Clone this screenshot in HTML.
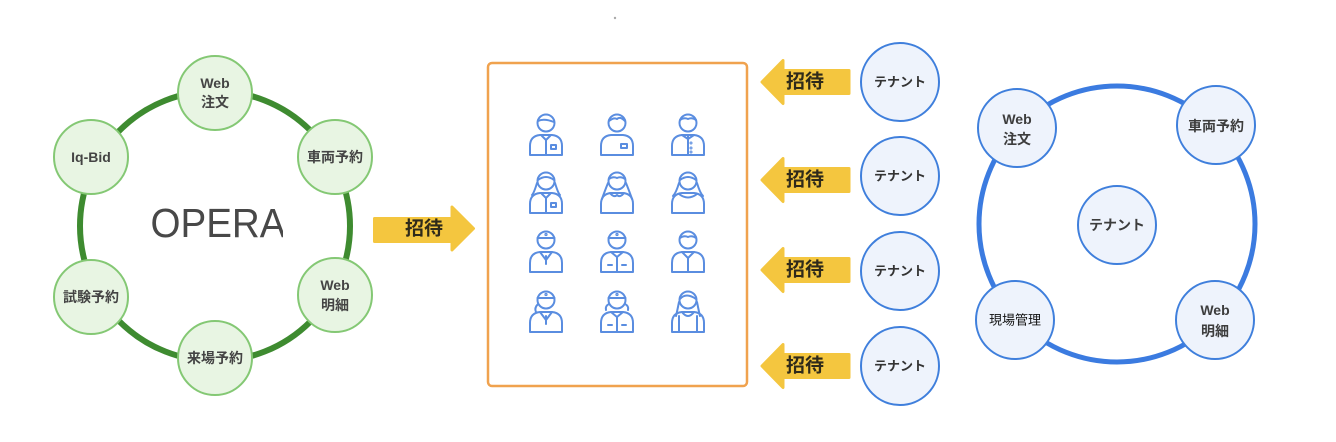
<!DOCTYPE html>
<html><head><meta charset="utf-8">
<style>
html,body{margin:0;padding:0;background:#fff;width:1336px;height:442px;overflow:hidden}
svg{display:block}
.t{font-family:"Liberation Sans","Noto Sans CJK JP",sans-serif;fill:#3a3a3a;text-anchor:middle;dominant-baseline:central}
.g{font-size:14px;font-weight:bold;fill:#444}
.b{font-size:14px;font-weight:bold;fill:#3d3d3d}
.tn{font-size:13px;fill:#333;font-weight:bold}
.ar{font-size:19px;font-weight:bold;fill:#2f2a1a}
</style></head>
<body>
<svg width="1336" height="442" viewBox="0 0 1336 442" xmlns="http://www.w3.org/2000/svg">
<defs>
<clipPath id="oc"><rect x="140" y="195" width="143" height="50"/></clipPath>
<g id="body"><path d="M-16,0 L-16,-9 Q-16,-19 -6,-20 L6,-20 Q16,-19 16,-9 L16,0 Z" fill="#fff"/></g>
</defs>

<!-- tiny dot -->
<circle cx="615" cy="18" r="1.2" fill="#aaa"/>

<!-- LEFT green ring -->
<circle cx="215" cy="226" r="135" fill="none" stroke="#3e8b30" stroke-width="6"/>
<text x="218" y="223" class="t" clip-path="url(#oc)" style="font-size:41px;fill:#484848" textLength="135" lengthAdjust="spacingAndGlyphs">OPERA</text>

<g fill="#e8f5e3" stroke="#84c874" stroke-width="2">
<circle cx="215" cy="93" r="37"/>
<circle cx="335" cy="157" r="37"/>
<circle cx="335" cy="295" r="37"/>
<circle cx="215" cy="358" r="37"/>
<circle cx="91" cy="297" r="37"/>
<circle cx="91" cy="157" r="37"/>
</g>
<text x="215" y="83" class="t g">Web</text>
<text x="215" y="102" class="t g">注文</text>
<text x="335" y="157" class="t g">車両予約</text>
<text x="335" y="285" class="t g">Web</text>
<text x="335" y="305" class="t g">明細</text>
<text x="215" y="358" class="t g">来場予約</text>
<text x="91" y="297" class="t g">試験予約</text>
<text x="91" y="157" class="t g">Iq-Bid</text>

<!-- right-pointing arrow -->
<path d="M374.5,218.5 L452,218.5 L452,207 L473.5,228.5 L452,250 L452,241.5 L374.5,241.5 Z" fill="#f4c63f" stroke="#f4c63f" stroke-width="3" stroke-linejoin="round"/>
<text x="424" y="229" class="t ar">招待</text>

<!-- orange box -->
<rect x="488" y="63" width="259" height="323" rx="4" fill="#fff" stroke="#f0a24e" stroke-width="2.5"/>

<!-- people icons -->
<g fill="none" stroke="#5a8de0" stroke-width="2" stroke-linecap="round" stroke-linejoin="round">
 <!-- row1 -->
 <g transform="translate(546,155)">
  <use href="#body"/><circle cx="0" cy="-32" r="8.5" fill="#fff"/>
  <path d="M-8,-34 Q-2,-37 8,-33"/><path d="M-5,-20 L0,-15 L5,-20"/><path d="M0,-15 L0,0"/><rect x="5" y="-10" width="5" height="4"/>
 </g>
 <g transform="translate(617,155)">
  <use href="#body"/><circle cx="0" cy="-32" r="8.5" fill="#fff"/>
  <path d="M-8,-34 Q-3,-38 0,-36 Q3,-39 8,-34"/><rect x="4" y="-11" width="6" height="4"/>
 </g>
 <g transform="translate(688,155)">
  <use href="#body"/><circle cx="0" cy="-32" r="8.5" fill="#fff"/>
  <path d="M-8,-35 Q-4,-38 0,-36 Q4,-38 8,-35"/><path d="M0,-20 L0,0"/><path d="M-6,-20 L0,-16 L6,-20"/><circle cx="3" cy="-12" r="0.5"/><circle cx="3" cy="-7" r="0.5"/><circle cx="3" cy="-3" r="0.5"/>
 </g>
 <!-- row2 -->
 <g transform="translate(546,213)">
  <use href="#body"/><path d="M-9,-30 Q-12,-20 -14,-18 M9,-30 Q12,-20 14,-18"/><circle cx="0" cy="-32" r="8.5" fill="#fff"/>
  <path d="M-8,-33 Q0,-39 8,-33"/><path d="M-5,-20 L0,-15 L5,-20"/><path d="M0,-15 L0,0"/><rect x="5" y="-10" width="5" height="4"/>
 </g>
 <g transform="translate(617,213)">
  <use href="#body"/><path d="M-9,-30 Q-13,-20 -15,-14 M9,-30 Q13,-20 15,-14"/><circle cx="0" cy="-32" r="8.5" fill="#fff"/>
  <path d="M-8,-34 Q-4,-37 0,-35 Q4,-37 8,-34"/><path d="M-7,-20 Q-3,-15 0,-18 Q3,-15 7,-20"/>
 </g>
 <g transform="translate(688,213)">
  <use href="#body"/><path d="M-9,-30 Q-12,-20 -15,-17 M9,-30 Q12,-20 15,-17"/><circle cx="0" cy="-32" r="8.5" fill="#fff"/>
  <path d="M-8,-33 Q0,-39 8,-33"/><path d="M-9,-19 Q0,-12 9,-19"/>
 </g>
 <!-- row3 -->
 <g transform="translate(546,272)">
  <use href="#body"/><circle cx="0" cy="-32" r="8.5" fill="#fff"/>
  <path d="M-8.5,-34 L8.5,-34"/><circle cx="0" cy="-37.5" r="0.6"/><path d="M-6,-20 L0,-12 L6,-20"/><path d="M0,-16 L0,-8"/>
 </g>
 <g transform="translate(617,272)">
  <use href="#body"/><circle cx="0" cy="-32" r="8.5" fill="#fff"/>
  <path d="M-8.5,-34 L8.5,-34"/><circle cx="0" cy="-37.5" r="0.6"/><path d="M-6,-20 L0,-15 L6,-20"/><path d="M0,-15 L0,0"/><path d="M-9,-7 L-5,-7 M5,-7 L9,-7"/>
 </g>
 <g transform="translate(688,272)">
  <use href="#body"/><circle cx="0" cy="-32" r="8.5" fill="#fff"/>
  <path d="M-8,-34 Q-4,-37 0,-35 Q4,-37 8,-34"/><path d="M-6,-20 L0,-14 L6,-20"/><path d="M0,-14 L0,0"/>
 </g>
 <!-- row4 -->
 <g transform="translate(546,332)">
  <use href="#body"/><path d="M-8,-28 Q-12,-24 -10,-20"/><circle cx="0" cy="-32" r="8.5" fill="#fff"/>
  <path d="M-8.5,-34 L8.5,-34"/><circle cx="0" cy="-37.5" r="0.6"/><path d="M-6,-20 L0,-12 L6,-20"/><path d="M0,-16 L0,-8"/>
 </g>
 <g transform="translate(617,332)">
  <use href="#body"/><path d="M-8,-28 Q-12,-26 -11,-22 M8,-28 Q12,-26 11,-22"/><circle cx="0" cy="-32" r="8.5" fill="#fff"/>
  <path d="M-8.5,-34 L8.5,-34"/><circle cx="0" cy="-37.5" r="0.6"/><path d="M-6,-20 L0,-15 L6,-20"/><path d="M0,-15 L0,0"/><path d="M-9,-7 L-5,-7 M5,-7 L9,-7"/>
 </g>
 <g transform="translate(688,332)">
  <use href="#body"/><path d="M-9,-30 Q-11,-20 -12,-16 M9,-30 Q11,-20 12,-16"/><circle cx="0" cy="-32" r="8.5" fill="#fff"/>
  <path d="M-8,-33 Q-2,-40 8,-33"/><path d="M-9,-16 L-9,0 M9,-16 L9,0"/><path d="M-6,-20 Q0,-12 6,-20"/>
 </g>
</g>

<!-- left-pointing arrows -->
<g fill="#f4c63f" stroke="#f4c63f" stroke-width="3" stroke-linejoin="round">
 <path d="M849,70.5 L783,70.5 L783,60.5 L762,82 L783,103.5 L783,93.5 L849,93.5 Z"/>
 <path d="M849,168.5 L783,168.5 L783,158.5 L762,180 L783,201.5 L783,191.5 L849,191.5 Z"/>
 <path d="M849,258.5 L783,258.5 L783,248.5 L762,270 L783,291.5 L783,281.5 L849,281.5 Z"/>
 <path d="M849,354.5 L783,354.5 L783,344.5 L762,366 L783,387.5 L783,377.5 L849,377.5 Z"/>
</g>
<text x="805" y="82" class="t ar">招待</text>
<text x="805" y="180" class="t ar">招待</text>
<text x="805" y="270" class="t ar">招待</text>
<text x="805" y="366" class="t ar">招待</text>

<!-- tenant circles -->
<g fill="#eef3fc" stroke="#3f7fdc" stroke-width="2">
 <circle cx="900" cy="82" r="39"/>
 <circle cx="900" cy="176" r="39"/>
 <circle cx="900" cy="271" r="39"/>
 <circle cx="900" cy="366" r="39"/>
</g>
<text x="900" y="82" class="t tn">テナント</text>
<text x="900" y="176" class="t tn">テナント</text>
<text x="900" y="271" class="t tn">テナント</text>
<text x="900" y="366" class="t tn">テナント</text>

<!-- RIGHT blue ring -->
<circle cx="1117" cy="224" r="138" fill="none" stroke="#3b7be0" stroke-width="5"/>
<g fill="#eef3fc" stroke="#3f7fdc" stroke-width="2">
 <circle cx="1017" cy="128" r="39"/>
 <circle cx="1216" cy="125" r="39"/>
 <circle cx="1015" cy="320" r="39"/>
 <circle cx="1215" cy="320" r="39"/>
 <circle cx="1117" cy="225" r="39"/>
</g>
<text x="1017" y="119" class="t b">Web</text>
<text x="1017" y="139" class="t b">注文</text>
<text x="1216" y="126" class="t b">車両予約</text>
<text x="1015" y="320" class="t" style="font-size:13px;fill:#111">現場管理</text>
<text x="1215" y="310" class="t b">Web</text>
<text x="1215" y="331" class="t b">明細</text>
<text x="1117" y="225" class="t b">テナント</text>
</svg>
</body></html>
